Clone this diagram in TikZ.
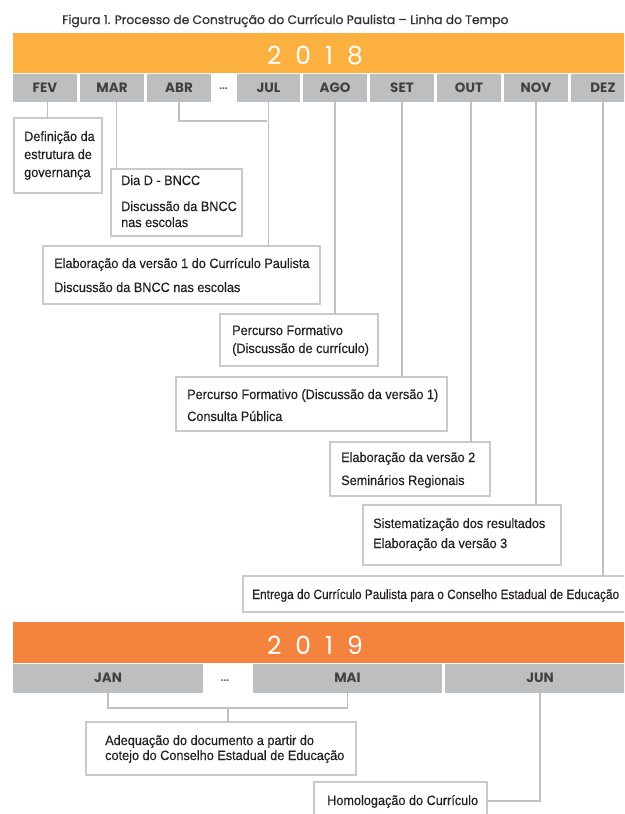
\documentclass[tikz,border=0pt]{standalone}
\usepackage{fontspec}
\setmainfont{Liberation Sans}[FakeStretch=0.94,FakeBold=0.25]
\newfontfamily\pop{Poppins}
\newfontfamily\popt{Poppins}[FakeBold=0.7]
\definecolor{orA}{HTML}{FBB040}
\definecolor{orB}{HTML}{F4843D}
\definecolor{mgrey}{HTML}{BCBEC0}
\definecolor{bgrey}{HTML}{C9CACC}
\definecolor{lgrey}{HTML}{BFC0C2}
\definecolor{dtext}{HTML}{231F20}
\definecolor{mtext}{HTML}{414042}
\definecolor{ttext}{HTML}{333335}
\tikzset{
  yearbar/.style={fill=#1, draw=none, anchor=north west, inner sep=0, outer sep=0},
  yeartxt/.style={text=white, font=\pop\fontsize{25}{25}\selectfont, inner sep=0},
  mon/.style={fill=mgrey, draw=none, anchor=north west, inner sep=0, outer sep=0,
    minimum height=27.5pt, text=mtext, font=\pop\bfseries\fontsize{13.5}{13.5}\selectfont},
  dots/.style={text=mtext!80, font=\pop\bfseries\fontsize{10}{10}\selectfont, inner sep=0},
  evbox/.style={draw=bgrey, line width=1.4pt, fill=white, anchor=north west, inner sep=0, outer sep=0},
  conn/.style={draw=lgrey, line width=1.4pt},
  txt/.style={anchor=base west, inner sep=0, text=dtext, font=\fontsize{13.5}{16}\selectfont},
}
\begin{document}
\begin{tikzpicture}[x=1pt,y=-1pt]
\useasboundingbox (0,0) rectangle (624,814);
\clip (0,0) rectangle (624,814);
\fill[white] (0,0) rectangle (624,814);

% title
\node[anchor=base west, inner sep=0, text=ttext, font=\popt\fontsize{12.3}{13}\selectfont] (title) at (62,24) {Figura 1. Processo de Construção do Currículo Paulista – Linha do Tempo};

% 2018 bar
\node[yearbar=orA, minimum width=620pt, minimum height=40pt] (y18) at (13,33.3) {};
\node[yeartxt] (y18t) at (315,56) {2\hspace{14pt}0\hspace{14pt}1\hspace{14pt}8};

% months 2018
\node[mon, minimum width=64pt] (fev) at (13,74) {FEV};
\node[mon, minimum width=64pt] (mar) at (80,74) {MAR};
\node[mon, minimum width=64pt] (abr) at (147,74) {ABR};
\node[dots] (dots18) at (223.5,89) {...};
\node[mon, minimum width=63pt] (jul) at (237,74) {JUL};
\node[mon, minimum width=64pt] (ago) at (303,74) {AGO};
\node[mon, minimum width=64pt] (set) at (370,74) {SET};
\node[mon, minimum width=64pt] (out) at (437,74) {OUT};
\node[mon, minimum width=64pt] (nov) at (504,74) {NOV};
\node[mon, minimum width=64pt] (dez) at (571,74) {DEZ};

% event boxes 2018
\node[evbox, minimum width=88pt, minimum height=75pt] (def) at (14,118) {};
\node[evbox, minimum width=131pt, minimum height=67pt] (diad) at (111,169) {};
\node[evbox, minimum width=277pt, minimum height=58pt] (elab1) at (43,246) {};
\node[evbox, minimum width=158pt, minimum height=52pt] (perc1) at (220,314) {};
\node[evbox, minimum width=271pt, minimum height=54pt] (perc2) at (176,377) {};
\node[evbox, minimum width=160pt, minimum height=54pt] (elab2) at (330,442) {};
\node[evbox, minimum width=198pt, minimum height=60pt] (sist) at (363,505) {};
\node[evbox, minimum width=389pt, minimum height=36pt] (entr) at (243,576) {};

% texts 2018
\node[txt] (def1) at (24,141) {Definição da};
\node[txt] (def2) at (24,159) {estrutura de};
\node[txt] (def3) at (24,177) {governança};
\node[txt] (diad1) at (121,185) {Dia D - BNCC};
\node[txt] (diad2) at (121,211) {Discussão da BNCC};
\node[txt] (diad3) at (121,227) {nas escolas};
\node[txt] (elab11) at (54,268) {Elaboração da versão 1 do Currículo Paulista};
\node[txt] (elab12) at (54,292) {Discussão da BNCC nas escolas};
\node[txt] (perc11) at (232,335) {Percurso Formativo};
\node[txt] (perc12) at (232,353) {(Discussão de currículo)};
\node[txt] (perc21) at (187,399) {Percurso Formativo (Discussão da versão 1)};
\node[txt] (perc22) at (187,421) {Consulta Pública};
\node[txt] (elab21) at (341,462) {Elaboração da versão 2};
\node[txt] (elab22) at (341,485) {Seminários Regionais};
\node[txt] (sist1) at (373,528) {Sistematização dos resultados};
\node[txt] (sist2) at (373,548) {Elaboração da versão 3};
\node[txt] (entr1) at (252,599) {\resizebox{367pt}{\height}{Entrega do Currículo Paulista para o Conselho Estadual de Educação}};

% connectors 2018
\coordinate (abrjul) at (267,121);
\draw[conn] ([xshift=2.7pt]fev.south) -- ([xshift=2.7pt]fev.south |- def.north);
\draw[conn] ([xshift=4.7pt]mar.south) -- ([xshift=4.7pt]mar.south |- diad.north);
\draw[conn] (abr.south) |- (abrjul);
\draw[conn] (jul.south) -- (jul.south |- elab1.north);
\draw[conn] (ago.south) -- (ago.south |- perc1.north);
\draw[conn] (set.south) -- (set.south |- perc2.north);
\draw[conn] ([xshift=2pt]out.south) -- ([xshift=2pt]out.south |- elab2.north);
\draw[conn] (nov.south) -- (nov.south |- sist.north);
\draw[conn] (dez.south) -- (dez.south |- entr.north);

% 2019 bar
\node[yearbar=orB, minimum width=620pt, minimum height=41pt] (y19) at (13,622) {};
\node[yeartxt] (y19t) at (315,645) {2\hspace{14pt}0\hspace{14pt}1\hspace{14pt}9};

% months 2019
\node[mon, minimum width=190pt, minimum height=29.5pt] (jan) at (13,663.5) {JAN};
\node[dots] (dots19) at (225,681) {...};
\node[mon, minimum width=189pt, minimum height=29.5pt] (mai) at (253,663.5) {MAI};
\node[mon, minimum width=190pt, minimum height=29.5pt] (jun) at (445,663.5) {JUN};

% event boxes 2019
\node[evbox, minimum width=270pt, minimum height=53pt] (adeq) at (86,722) {};
\node[evbox, minimum width=173pt, minimum height=38pt] (homol) at (314,782) {};
\node[txt] (adeq1) at (105,745) {Adequação do documento a partir do};
\node[txt] (adeq2) at (105,760) {cotejo do Conselho Estadual de Educação};
\node[txt] (homol1) at (327,805) {Homologação do Currículo};

% connectors 2019
\coordinate (janmai) at (228,708);
\draw[conn] (jan.south) |- (janmai) -| (mai.south);
\draw[conn] (janmai) -- (janmai |- adeq.north);
\draw[conn] (jun.south) |- (homol.east);
\end{tikzpicture}
\end{document}
